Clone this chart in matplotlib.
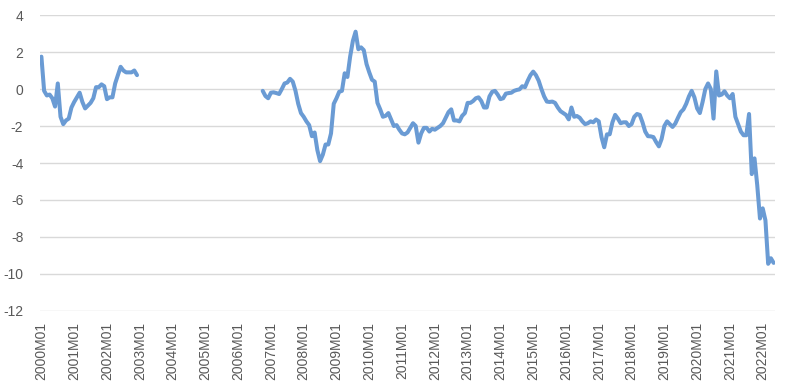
import numpy as np
import matplotlib
matplotlib.use("Agg")
import matplotlib.pyplot as plt

# Monthly series, 2000M01 .. 2022M05 (gap 2003M01 .. 2006M09)
seg_2000 = [1.75, -0.1, -0.35, -0.3, -0.5, -0.95, 0.3, -1.5, -1.9, -1.7,
            -1.6, -1.0, -0.7, -0.45, -0.2, -0.7, -1.05, -0.9, -0.75, -0.5,
            0.1, 0.1, 0.25, 0.15, -0.55, -0.45, -0.45, 0.3, 0.75, 1.2,
            1.0, 0.9, 0.9, 0.9, 1.0, 0.75]
gap_months = 45
seg_2006 = [-0.1, -0.38, -0.5, -0.2, -0.18, -0.22, -0.27, 0.0, 0.3, 0.35,
            0.55, 0.4, -0.1, -0.8, -1.3, -1.5, -1.75, -1.95, -2.55, -2.35,
            -3.3, -3.9, -3.55, -3.0, -3.0, -2.4, -0.8, -0.5, -0.15, -0.1,
            0.85, 0.65, 1.75, 2.6, 3.1, 2.15, 2.25, 2.1, 1.35, 0.9,
            0.5, 0.4, -0.75, -1.1, -1.5, -1.45, -1.3, -1.65, -2.0, -1.95,
            -2.2, -2.4, -2.45, -2.35, -2.1, -1.85, -2.0, -2.9, -2.4, -2.1,
            -2.1, -2.3, -2.15, -2.2, -2.1, -2.0, -1.85, -1.55, -1.25, -1.1,
            -1.7, -1.7, -1.75, -1.45, -1.3, -0.75, -0.75, -0.65, -0.5, -0.45,
            -0.65, -1.0, -1.0, -0.4, -0.15, -0.1, -0.3, -0.55, -0.5, -0.25,
            -0.22, -0.2, -0.1, -0.05, -0.02, 0.15, 0.1, 0.45, 0.75, 0.94,
            0.75, 0.45, 0.0, -0.4, -0.68, -0.7, -0.68, -0.75, -1.0, -1.2,
            -1.3, -1.4, -1.64, -1.0, -1.5, -1.46, -1.55, -1.75, -1.9, -1.85,
            -1.75, -1.8, -1.65, -1.75, -2.6, -3.15, -2.45, -2.45, -1.8, -1.4,
            -1.6, -1.85, -1.8, -1.8, -2.0, -1.9, -1.5, -1.35, -1.4, -1.8,
            -2.3, -2.55, -2.56, -2.6, -2.87, -3.1, -2.7, -2.0, -1.75, -1.9,
            -2.05, -1.87, -1.55, -1.25, -1.1, -0.8, -0.4, -0.1, -0.45, -1.05,
            -1.3, -0.7, 0.0, 0.3, 0.0, -1.6, 0.95, -0.35, -0.3, -0.12,
            -0.35, -0.5, -0.27, -1.5, -1.9, -2.3, -2.5, -2.5, -1.35, -4.6,
            -3.75, -5.2, -7.0, -6.45, -7.1, -9.45, -9.15, -9.4]

values = np.array(seg_2000 + [np.nan] * gap_months + seg_2006)
labels = [f"{2000 + i // 12}M{i % 12 + 1:02d}" for i in range(len(values))]

plt.rcParams["font.family"] = ["Liberation Sans", "DejaVu Sans"]
plt.rcParams["axes.unicode_minus"] = False

fig, ax = plt.subplots(figsize=(7.88, 3.9), dpi=100)
fig.subplots_adjust(left=0.0508, right=0.9835, top=0.9615, bottom=0.2026)

x = np.arange(len(values))
ax.plot(x, values, color="#6A9BD4", lw=2.9, solid_joinstyle="round",
        solid_capstyle="round", zorder=3)

ax.set_ylim(-12, 4)
ax.set_yticks(np.arange(-12, 5, 2))
ax.set_xlim(-0.5, len(values) - 0.5)
tick_pos = x[::12]
ax.set_xticks(tick_pos)
ax.set_xticklabels([labels[i] for i in tick_pos], rotation=90)

ax.grid(axis="y", color="#D9D9D9", lw=1)
ax.set_axisbelow(True)
for s in ax.spines.values():
    s.set_visible(False)
ax.tick_params(length=0, colors="#595959", labelsize=10)
ax.tick_params(axis="y", pad=12)
ax.tick_params(axis="x", pad=8)

fig.savefig("out.png", dpi=100)
